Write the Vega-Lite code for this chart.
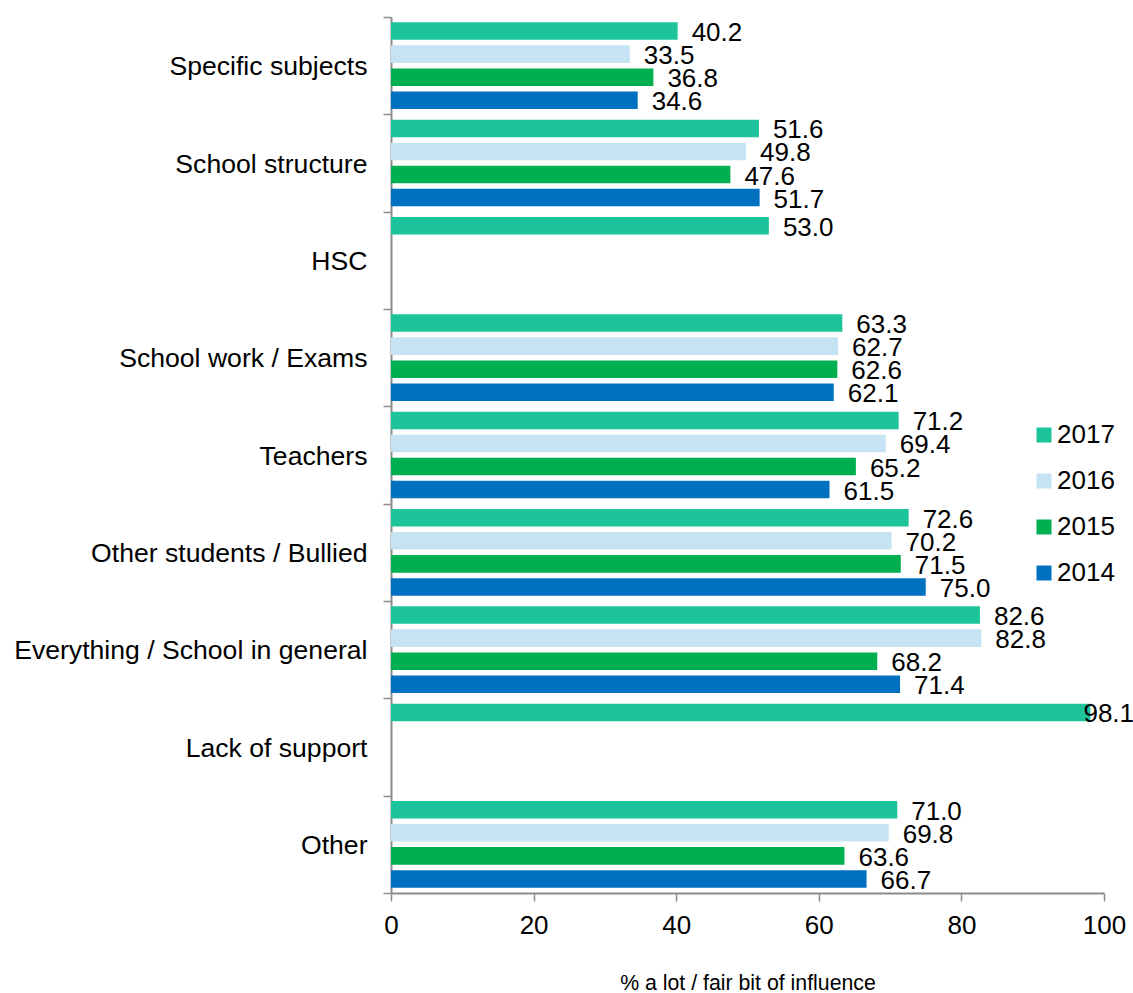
{
  "$schema": "https://vega.github.io/schema/vega-lite/v6.json",
  "autosize": {"type": "none"},
  "padding": {"left": 391, "top": 17, "right": 29, "bottom": 100},
  "width": 713,
  "height": 876,
  "background": "white",
  "config": {
    "font": "Liberation Sans",
    "view": {"stroke": null}
  },
  "data": {
    "values": [
      {"cat": "Specific subjects", "year": "2017", "v": 40.2},
      {"cat": "Specific subjects", "year": "2016", "v": 33.5},
      {"cat": "Specific subjects", "year": "2015", "v": 36.8},
      {"cat": "Specific subjects", "year": "2014", "v": 34.6},
      {"cat": "School structure", "year": "2017", "v": 51.6},
      {"cat": "School structure", "year": "2016", "v": 49.8},
      {"cat": "School structure", "year": "2015", "v": 47.6},
      {"cat": "School structure", "year": "2014", "v": 51.7},
      {"cat": "HSC", "year": "2017", "v": 53.0},
      {"cat": "School work / Exams", "year": "2017", "v": 63.3},
      {"cat": "School work / Exams", "year": "2016", "v": 62.7},
      {"cat": "School work / Exams", "year": "2015", "v": 62.6},
      {"cat": "School work / Exams", "year": "2014", "v": 62.1},
      {"cat": "Teachers", "year": "2017", "v": 71.2},
      {"cat": "Teachers", "year": "2016", "v": 69.4},
      {"cat": "Teachers", "year": "2015", "v": 65.2},
      {"cat": "Teachers", "year": "2014", "v": 61.5},
      {"cat": "Other students / Bullied", "year": "2017", "v": 72.6},
      {"cat": "Other students / Bullied", "year": "2016", "v": 70.2},
      {"cat": "Other students / Bullied", "year": "2015", "v": 71.5},
      {"cat": "Other students / Bullied", "year": "2014", "v": 75.0},
      {"cat": "Everything / School in general", "year": "2017", "v": 82.6},
      {"cat": "Everything / School in general", "year": "2016", "v": 82.8},
      {"cat": "Everything / School in general", "year": "2015", "v": 68.2},
      {"cat": "Everything / School in general", "year": "2014", "v": 71.4},
      {"cat": "Lack of support", "year": "2017", "v": 98.1},
      {"cat": "Other", "year": "2017", "v": 71.0},
      {"cat": "Other", "year": "2016", "v": 69.8},
      {"cat": "Other", "year": "2015", "v": 63.6},
      {"cat": "Other", "year": "2014", "v": 66.7}
    ]
  },
  "encoding": {
    "y": {
      "field": "cat",
      "type": "nominal",
      "sort": null,
      "scale": {"paddingInner": 0, "paddingOuter": 0},
      "axis": {
        "title": null,
        "tickBand": "extent",
        "labelFontSize": 26.6,
        "labelColor": "#000000",
        "labelPadding": 16,
        "labelOffset": 1,
        "tickSize": 8,
        "tickColor": "#8C8C8C",
        "tickWidth": 1.5,
        "domainColor": "#8C8C8C",
        "domainWidth": 2,
        "labelLimit": 600
      }
    },
    "yOffset": {
      "field": "year",
      "type": "nominal",
      "sort": ["2017", "2016", "2015", "2014"],
      "scale": {"paddingInner": 0.24, "paddingOuter": 0.23}
    }
  },
  "layer": [
    {
      "mark": {"type": "bar"},
      "encoding": {
        "x": {
          "field": "v",
          "type": "quantitative",
          "scale": {"domain": [0, 100], "nice": false},
          "axis": {
            "title": "% a lot / fair bit of influence",
            "titleFontSize": 21.3,
            "titleFontWeight": "normal",
            "titleColor": "#000000",
            "titlePadding": 34,
            "values": [0, 20, 40, 60, 80, 100],
            "grid": false,
            "labelFontSize": 26,
            "labelColor": "#000000",
            "labelPadding": 11,
            "labelFlush": false,
            "tickSize": 8,
            "tickColor": "#8C8C8C",
            "tickWidth": 1.5,
            "domainColor": "#8C8C8C",
            "domainWidth": 2
          }
        },
        "color": {
          "field": "year",
          "type": "nominal",
          "sort": ["2017", "2016", "2015", "2014"],
          "scale": {
            "domain": ["2017", "2016", "2015", "2014"],
            "range": ["#1DC49B", "#C5E3F2", "#00B050", "#0070C0"]
          },
          "legend": {
            "title": null,
            "orient": "none",
            "legendX": 640,
            "legendY": 405,
            "padding": 0,
            "symbolType": "square",
            "symbolSize": 225,
            "symbolStrokeWidth": 0,
            "labelFontSize": 26,
            "labelColor": "#000000",
            "labelOffset": 0,
            "rowPadding": 20
          }
        }
      }
    },
    {
      "transform": [{"filter": "datum.v < 95"}],
      "mark": {"type": "text", "align": "left", "baseline": "middle", "dx": 14, "dy": 2, "fontSize": 26, "color": "#000000"},
      "encoding": {
        "x": {"field": "v", "type": "quantitative"},
        "text": {"field": "v", "type": "quantitative", "format": ".1f"}
      }
    },
    {
      "transform": [{"filter": "datum.v >= 95"}],
      "mark": {"type": "text", "align": "left", "baseline": "middle", "dx": -7, "dy": 2, "fontSize": 26, "color": "#000000"},
      "encoding": {
        "x": {"field": "v", "type": "quantitative"},
        "text": {"field": "v", "type": "quantitative", "format": ".1f"}
      }
    }
  ]
}
